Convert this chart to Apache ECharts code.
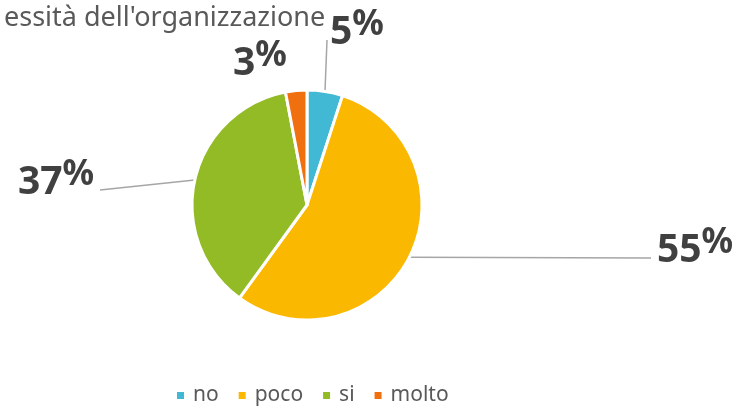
<!DOCTYPE html>
<html>
<head>
<meta charset="utf-8">
<script src="https://cdn.jsdelivr.net/npm/echarts@6/dist/echarts.min.js"></script>
<style>
  html, body { margin: 0; padding: 0; background: #fff; }
  #chart { width: 738px; height: 408px; }
</style>
</head>
<body>
<div id="chart"></div>
<script>
// chart data
const titleText = "essità dell'organizzazione"
const categories = ['no', 'poco', 'si', 'molto']
const values = [5, 55, 37, 3]
const colors = ['#41B9D4', '#FBB800', '#92BB25', '#F07010']

// where each percent label sits (left x, middle y) and the end of its leader line
const labelSpots = [
  { x: 330, y: 33, line: [327, 40] },
  { x: 657, y: 251, line: [651, 258] },
  { x: 18, y: 183, line: [100, 190] },
  { x: 233, y: 64, line: null }
]

const pieCenter = [307, 205]
const pieRadius = 115

const total = values.reduce(function (a, b) { return a + b }, 0)

// point on the rim in the middle of slice i
function rimPoint(i) {
  let before = 0
  for (let k = 0; k < i; k++) before += values[k]
  const mid = (90 - 360 * (before + values[i] / 2) / total) * Math.PI / 180
  return [pieCenter[0] + pieRadius * Math.cos(mid), pieCenter[1] - pieRadius * Math.sin(mid)]
}

const chart = echarts.init(document.getElementById('chart'))

chart.setOption({
  animation: false,
  color: colors,
  title: {
    text: titleText,
    left: -1,
    top: 0,
    textStyle: {
      fontFamily: 'Noto Sans',
      fontSize: 27,
      fontWeight: 'normal',
      color: '#595959'
    }
  },
  legend: {
    left: 170,
    top: 380,
    icon: 'rect',
    itemWidth: 9,
    itemHeight: 9,
    itemGap: 18,
    textStyle: {
      fontFamily: 'Noto Sans',
      fontSize: 21,
      color: '#595959',
      padding: [0, 0, 0, 3]
    },
    data: categories
  },
  series: [
    {
      type: 'pie',
      center: pieCenter,
      radius: pieRadius,
      startAngle: 90,
      clockwise: true,
      itemStyle: { borderColor: '#fff', borderWidth: 3 },
      label: {
        show: true,
        formatter: function (p) {
          return '{n|' + Math.round(p.percent) + '}{p|%}'
        },
        rich: {
          n: { fontFamily: 'Noto Sans', fontWeight: 'bold', fontSize: 39, color: '#404040' },
          p: { fontFamily: 'Noto Sans', fontWeight: 'bold', fontSize: 35, color: '#404040', padding: [0, 0, 16, 0] }
        }
      },
      labelLine: {
        show: true,
        lineStyle: { color: '#A6A6A6', width: 1.5 }
      },
      labelLayout: function (params) {
        const i = params.dataIndex
        const spot = labelSpots[i]
        const res = { x: spot.x, y: spot.y, align: 'left', verticalAlign: 'middle' }
        if (spot.line) {
          res.labelLinePoints = [rimPoint(i), spot.line, spot.line]
        } else {
          res.labelLinePoints = [[-10, -10], [-10, -10], [-10, -10]]
        }
        return res
      },
      data: categories.map(function (c, i) {
        return { name: c, value: values[i] }
      })
    }
  ]
})
</script>
</body>
</html>
